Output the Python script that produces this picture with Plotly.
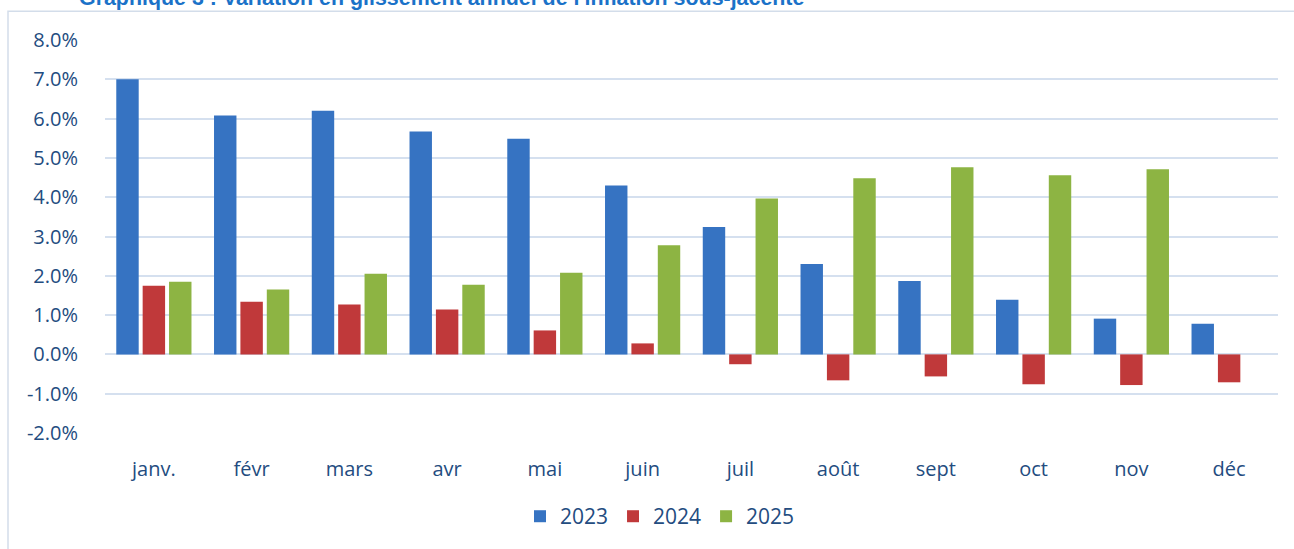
import plotly.graph_objects as go

months = ["janv.", "févr", "mars", "avr", "mai", "juin", "juil", "août", "sept", "oct", "nov", "déc"]
v2023 = [7.0, 6.08, 6.2, 5.67, 5.49, 4.3, 3.24, 2.3, 1.87, 1.39, 0.91, 0.78]
v2024 = [1.75, 1.34, 1.27, 1.14, 0.61, 0.28, -0.25, -0.66, -0.56, -0.76, -0.78, -0.71]
v2025 = [1.85, 1.65, 2.05, 1.77, 2.08, 2.78, 3.97, 4.48, 4.76, 4.56, 4.71, None]
series = [("2023", v2023, "#3673C2"), ("2024", v2024, "#C0393A"), ("2025", v2025, "#8DB443")]
yticks = [-2, -1, 0, 1, 2, 3, 4, 5, 6, 7, 8]
title = "Graphique 3 : Variation en glissement annuel de l'inflation sous-jacente"

W, H = 1294, 549
L, R, T, B = 105, 16, 40, 114
pw, ph = W - L - R, H - T - B

fig = go.Figure()
for name, vals, col in series:
    fig.add_trace(go.Bar(x=months, y=vals, name=name, marker=dict(color=col, line=dict(width=0))))

def px2x(p):
    return (p - L) / pw

def px2y(p):
    return 1 - (p - T) / ph

fig.update_layout(
    width=W, height=H,
    margin=dict(l=L, r=R, t=T, b=B),
    paper_bgcolor="white", plot_bgcolor="white",
    barmode="group", bargap=0.19, bargroupgap=0.15,
    font=dict(family="Open Sans, sans-serif", color="#234C80", size=19),
    showlegend=True,
    legend=dict(orientation="h", x=px2x(660), xanchor="center", y=px2y(519), yanchor="middle",
                font=dict(size=21, color="#234C80"), itemwidth=30, traceorder="normal"),
    xaxis=dict(showgrid=False, ticks="outside", ticklen=18, tickcolor="rgba(0,0,0,0)",
               tickfont=dict(size=20), showline=False, zeroline=False),
    yaxis=dict(range=[-2, 8], tickvals=yticks, ticktext=[f"{v:.1f}%" for v in yticks],
               showgrid=True, gridcolor="#D5E0EF", gridwidth=2,
               zeroline=True, zerolinecolor="#D5E0EF", zerolinewidth=2,
               ticks="outside", ticklen=22, tickcolor="rgba(0,0,0,0)",
               tickfont=dict(size=20)),
    annotations=[dict(text="<b>" + title + "</b>", xref="paper", yref="paper",
                      x=px2x(77), y=px2y(-2), xanchor="left", yanchor="middle",
                      showarrow=False, font=dict(family="Liberation Sans, Arial", size=21.4, color="#1B72C8"))],
    shapes=[dict(type="rect", xref="paper", yref="paper",
                 x0=px2x(8), x1=px2x(W + 20), y0=px2y(11), y1=px2y(H + 20),
                 line=dict(color="#D3DDEA", width=1.5), fillcolor="rgba(0,0,0,0)", layer="below")],
)

fig.write_html("out.html", config={"displayModeBar": False},
               post_script="document.body.style.margin='0';document.body.style.overflow='hidden';")
